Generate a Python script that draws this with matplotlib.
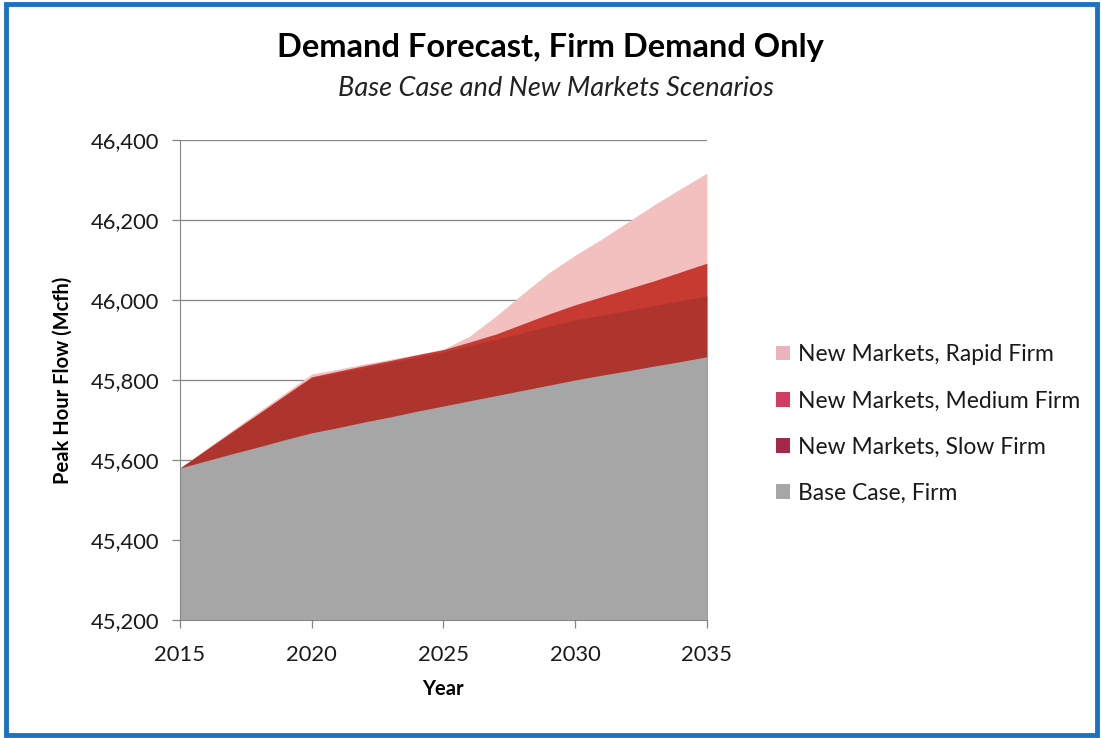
import matplotlib.pyplot as plt
from matplotlib.patches import Patch, Rectangle
import numpy as np

# Annual peak hour flow forecast (Mcfh)
years = np.arange(2015, 2036)
base_case = [45580, 45598, 45616, 45633, 45651, 45668, 45681, 45695, 45708, 45722, 45735,
             45748, 45761, 45774, 45787, 45800, 45812, 45823, 45835, 45846, 45858]
slow_firm = [45580, 45625, 45670, 45715, 45760, 45805, 45818, 45831, 45844, 45857, 45870,
             45886, 45902, 45918, 45934, 45950, 45962, 45974, 45986, 45998, 46010]
medium_firm = [45580, 45626, 45672, 45717, 45763, 45808, 45822, 45836, 45849, 45863, 45876,
               45895, 45915, 45940, 45965, 45988, 46008, 46028, 46048, 46070, 46092]
rapid_firm = [45580, 45628, 45675, 45722, 45768, 45815, 45827, 45840, 45852, 45864, 45877,
              45910, 45960, 46015, 46068, 46112, 46152, 46195, 46238, 46278, 46317]

labels = ['New Markets, Rapid Firm', 'New Markets, Medium Firm',
          'New Markets, Slow Firm', 'Base Case, Firm']
area_colors = ['#f3c0c0', '#c63a32', '#ad352d', '#a6a6a6']
swatch_colors = ['#ebb3c0', '#cf3d63', '#a3284a', '#a6a6a6']
x_ticks = [2015, 2020, 2025, 2030, 2035]
y_ticks = [45200, 45400, 45600, 45800, 46000, 46200, 46400]

plt.rcParams['font.family'] = ['Lato', 'DejaVu Sans']

fig = plt.figure(figsize=(11.01, 7.38), dpi=100)
ax = fig.add_axes([0.1635, 0.1599, 0.642 - 0.1635, 0.8103 - 0.1599])

# overlapping areas, largest first so smaller scenarios sit on top
series = [rapid_firm, medium_firm, slow_firm, base_case]
for vals, col in zip(series, area_colors):
    ax.fill_between(years, 45200, vals, color=col, linewidth=0, zorder=2)

ax.set_xlim(2015, 2035)
ax.set_ylim(45200, 46400)
ax.set_xticks(x_ticks)
ax.set_yticks(y_ticks)
ax.set_yticklabels([f'{v:,}' for v in y_ticks])
ax.grid(axis='y', color='#868686', linewidth=0.9, zorder=1)
ax.set_axisbelow(True)

for side in ['top', 'right']:
    ax.spines[side].set_visible(False)
for side in ['left', 'bottom']:
    ax.spines[side].set_color('#868686')
    ax.spines[side].set_zorder(3)
ax.tick_params(axis='both', colors='#868686', labelcolor='#1a1a1a', labelsize=15.8,
               length=6, width=0.9)
ax.tick_params(axis='y', pad=9)
ax.tick_params(axis='x', pad=12)

ax.set_xlabel('Year', fontsize=14.5, fontweight='bold', labelpad=10)
ax.set_ylabel('Peak Hour Flow (Mcfh)', fontsize=14.5, fontweight='bold', labelpad=13)

fig.text(0.5, 1 - 48 / 738, 'Demand Forecast, Firm Demand Only', ha='center', va='center',
         fontsize=23.5, fontweight='bold')
fig.text(0.505, 1 - 88 / 738, 'Base Case and New Markets Scenarios', ha='center', va='center',
         fontsize=19.5, style='italic', color='#222222')

handles = [Patch(facecolor=c, edgecolor='none') for c in swatch_colors]
fig.legend(handles, labels, loc='center left', bbox_to_anchor=(0.686, 1 - 424 / 738),
           frameon=False, fontsize=16.5, labelspacing=1.1, handlelength=0.6,
           handleheight=0.6, handletextpad=0.35, labelcolor='#1a1a1a')

# blue outline around the whole chart
fig.patches.append(Rectangle((0.005, 0.004), 0.991, 0.99, transform=fig.transFigure,
                             fill=False, edgecolor='#1a72c4', linewidth=3.5))

fig.savefig('out.png', dpi=100)
